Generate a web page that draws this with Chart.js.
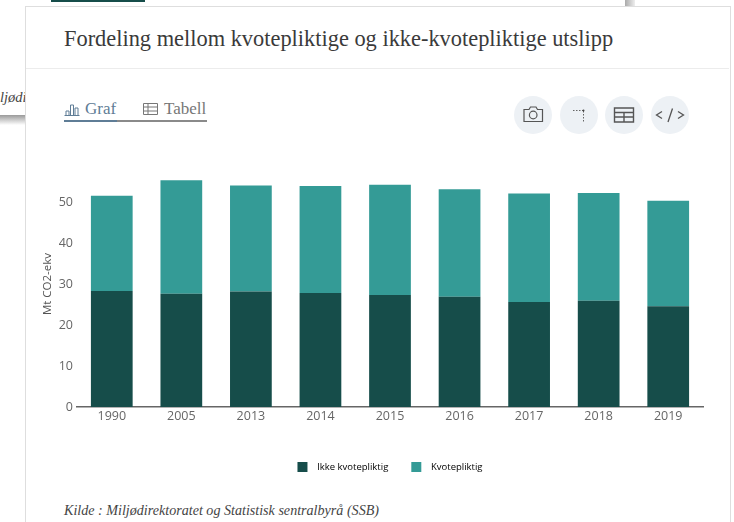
<!DOCTYPE html>
<html>
<head>
<meta charset="utf-8">
<script src="https://cdn.jsdelivr.net/npm/chart.js@4"></script>
<style>
  html, body { margin: 0; padding: 0; width: 734px; height: 522px; overflow: hidden; background: #fff; }
  body { position: relative; font-family: "Liberation Serif", serif; }
  .abs { position: absolute; }
  #bgbar { left: 51px; top: 0; width: 94px; height: 2px; background: #164d4a; }
  #bgtext { left: 0; top: 89px; font-style: italic; font-size: 14.5px; color: #444; }
  #bgshadow { left: 0; top: 115px; width: 26px; height: 10px; background: linear-gradient(#9a9a9a, #fff); }
  #bgshadow2 { left: 625px; top: 0; width: 10px; height: 6px; background: linear-gradient(90deg, #aaa, #eee); }
  #card { left: 25px; top: 6px; width: 704px; height: 520px; background: #fff; border: 1px solid #dedede; box-sizing: content-box; }
  #title { left: 64px; top: 26px; font-size: 22.4px; color: #3a3a3a; white-space: nowrap; }
  #divider { left: 26px; top: 68px; width: 703px; height: 1px; background: #ececec; }
  .tab { top: 99px; font-size: 17px; white-space: nowrap; }
  #lineA { left: 64px; top: 120px; width: 53px; height: 2px; background: #5f7d96; }
  #lineB { left: 117px; top: 120px; width: 90px; height: 2px; background: #8a8a8a; }
  .btn { top: 96px; width: 38px; height: 38px; border-radius: 50%; background: #edf1f5; }
  .btn svg { position: absolute; left: 0; top: 0; }
  #source { left: 64px; top: 502px; font-style: italic; font-size: 14.1px; color: #444; white-space: nowrap; }
  #wrap { left: 26px; top: 140px; width: 700px; height: 342px; }
</style>
</head>
<body>
<div class="abs" id="bgbar"></div>
<div class="abs" id="bgtext">ljødi</div>
<div class="abs" id="bgshadow"></div>
<div class="abs" id="bgshadow2"></div>
<div class="abs" id="card"></div>
<div class="abs" id="title">Fordeling mellom kvotepliktige og ikke-kvotepliktige utslipp</div>
<div class="abs" id="divider"></div>

<svg class="abs" style="left:64px;top:102px" width="16" height="14" fill="none" stroke="#5f7d96" stroke-width="1">
  <path d="M0.5 13.5H15.5M2 13V9H5V13M6.5 13V3H9.5V13M11 13V6H14V13"/>
</svg>
<div class="abs tab" style="left:85px;color:#5f7d96">Graf</div>
<svg class="abs" style="left:143px;top:103px" width="15" height="12" fill="none" stroke="#777" stroke-width="1">
  <path d="M0.5 0.5H14.5V11.5H0.5ZM0.5 4H14.5M0.5 8H14.5M5 0.5V11.5"/>
</svg>
<div class="abs tab" style="left:164px;color:#777">Tabell</div>
<div class="abs" id="lineA"></div>
<div class="abs" id="lineB"></div>

<div class="abs btn" style="left:514px">
  <svg width="38" height="38" fill="none" stroke="#555" stroke-width="1.2">
    <path d="M10 13.5H15L16.5 11H22L23.5 13.5H28.5V25.5H10Z"/><circle cx="19.2" cy="19" r="3.8"/>
  </svg>
</div>
<div class="abs btn" style="left:560px">
  <svg width="38" height="38" fill="none" stroke="#666" stroke-width="1">
    <path d="M13 14.5H23M23.5 15V26" stroke-dasharray="1.5 1.5"/><circle cx="23.5" cy="14.5" r="1" fill="#444" stroke="none"/>
  </svg>
</div>
<div class="abs btn" style="left:605px">
  <svg width="38" height="38" fill="none" stroke="#555" stroke-width="1.4">
    <path d="M9.5 12H28.5V26H9.5ZM9.5 16.5H28.5M9.5 21H28.5M19 16.5V26"/>
  </svg>
</div>
<div class="abs btn" style="left:651px">
  <svg width="38" height="38" fill="none" stroke="#555" stroke-width="1.3">
    <path d="M11 15.5L5.5 19L11 22.5M21.5 12.5L17 26M27 15.5L32.5 19L27 22.5"/>
  </svg>
</div>

<div class="abs" id="wrap"><canvas id="chart"></canvas></div>
<div class="abs" id="source">Kilde : Miljødirektoratet og Statistisk sentralbyrå (SSB)</div>

<script>
const years = ['1990', '2005', '2013', '2014', '2015', '2016', '2017', '2018', '2019']
const ikkeKvotepliktig = [28.3, 27.6, 28.2, 27.8, 27.3, 26.9, 25.6, 25.9, 24.6]
const kvotepliktig = [23.2, 27.7, 25.8, 26.1, 26.9, 26.2, 26.5, 26.3, 25.7]
const seriesNames = ['Ikke kvotepliktig', 'Kvotepliktig']
const yTicks = [0, 10, 20, 30, 40, 50]

const fontFamily = '"Open Sans", sans-serif'

new Chart(document.getElementById('chart'), {
    type: 'bar',
    data: {
        labels: years,
        datasets: [
            {label: seriesNames[0], data: ikkeKvotepliktig, backgroundColor: '#164d4a'},
            {label: seriesNames[1], data: kvotepliktig, backgroundColor: '#349b96'}
        ]
    },
    options: {
        responsive: true,
        maintainAspectRatio: false,
        animation: false,
        layout: {padding: {top: 21, right: 23, left: 0, bottom: 0}},
        datasets: {bar: {categoryPercentage: 0.6, barPercentage: 1}},
        scales: {
            x: {
                stacked: true,
                grid: {display: false, tickLength: 2},
                border: {color: '#666', width: 1.5},
                ticks: {color: '#666', font: {family: fontFamily, size: 12.5}, padding: 0, maxRotation: 0},
                afterFit: (scale) => { scale.height = 32 }
            },
            y: {
                stacked: true,
                min: 0,
                max: 60,
                afterBuildTicks: (scale) => { scale.ticks = yTicks.map(value => ({value})) },
                grid: {display: false, tickLength: 2},
                border: {display: false},
                title: {display: true, text: 'Mt CO2-ekv', color: '#555', font: {family: fontFamily, size: 11.5}, padding: {top: 15, bottom: 0}},
                ticks: {color: '#666', font: {family: fontFamily, size: 12.5}, padding: 2},
                afterFit: (scale) => { scale.width = 51 }
            }
        },
        plugins: {
            tooltip: {enabled: false},
            legend: {
                position: 'bottom',
                fullSize: false,
                labels: {
                    boxWidth: 10,
                    boxHeight: 10,
                    padding: 23,
                    color: '#666',
                    font: {family: fontFamily, size: 9.5},
                    generateLabels: (chart) => chart.data.datasets.map((dataset, i) => ({
                        text: '\u00a0\u00a0' + dataset.label,
                        fillStyle: dataset.backgroundColor,
                        strokeStyle: dataset.backgroundColor,
                        lineWidth: 0,
                        datasetIndex: i
                    }))
                }
            }
        }
    }
})
</script>
</body>
</html>
